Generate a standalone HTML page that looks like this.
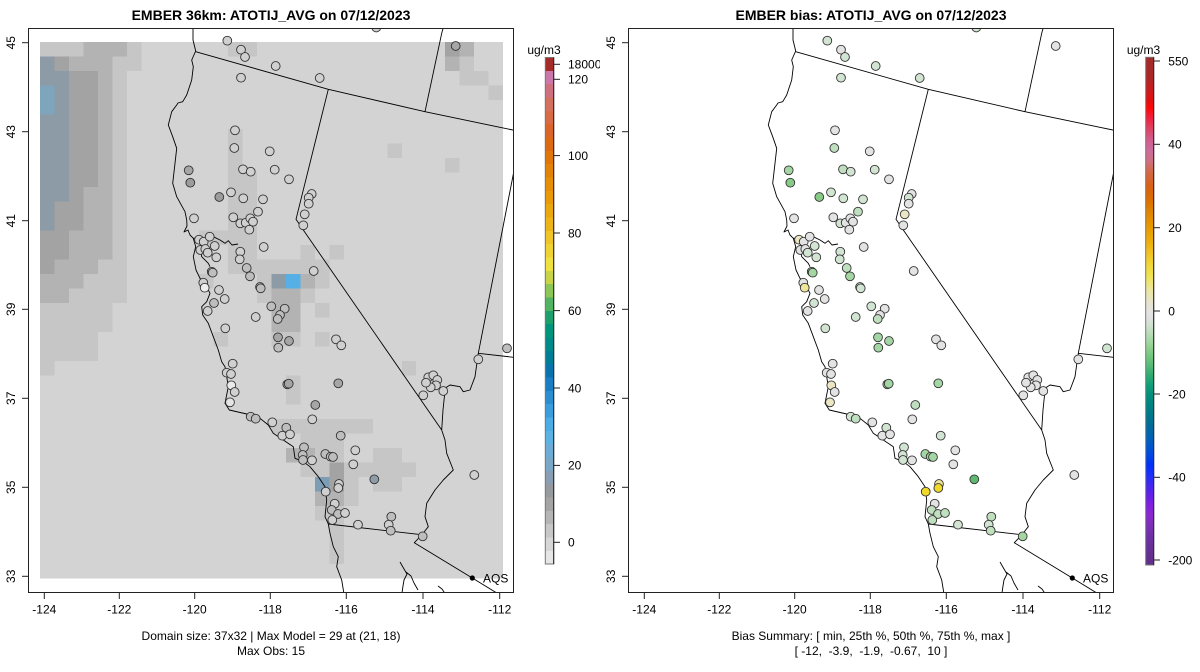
<!DOCTYPE html>
<html><head><meta charset="utf-8"><style>
html,body{margin:0;padding:0;background:#fff}
svg{display:block}
text{font-family:"Liberation Sans",Arial,sans-serif;fill:#000}
</style></head><body>
<svg width="1200" height="672" viewBox="0 0 1200 672" xmlns="http://www.w3.org/2000/svg">
<defs>
<clipPath id="pc"><rect x="28.5" y="28.5" width="485" height="564"/></clipPath>
<linearGradient id="rg" x1="0" y1="0" x2="0" y2="1">
<stop offset="0" stop-color="#a52a2a"/><stop offset="0.035" stop-color="#a82828"/><stop offset="0.055" stop-color="#c02020"/><stop offset="0.084" stop-color="#e01010"/><stop offset="0.1" stop-color="#ff0808"/><stop offset="0.12" stop-color="#f02040"/><stop offset="0.139" stop-color="#e04060"/><stop offset="0.159" stop-color="#d45888"/><stop offset="0.183" stop-color="#cc6c9c"/><stop offset="0.206" stop-color="#d07080"/><stop offset="0.226" stop-color="#d46848"/><stop offset="0.252" stop-color="#d86018"/><stop offset="0.277" stop-color="#dc6c00"/><stop offset="0.305" stop-color="#e08400"/><stop offset="0.332" stop-color="#e89800"/><stop offset="0.36" stop-color="#ecac08"/><stop offset="0.383" stop-color="#f0c020"/><stop offset="0.411" stop-color="#f0d838"/><stop offset="0.435" stop-color="#f0e45c"/><stop offset="0.458" stop-color="#ece6a0"/><stop offset="0.482" stop-color="#e6e4cc"/><stop offset="0.502" stop-color="#e4e4e4"/><stop offset="0.514" stop-color="#e0e0e0"/><stop offset="0.527" stop-color="#d0e2d0"/><stop offset="0.547" stop-color="#b4dcb4"/><stop offset="0.567" stop-color="#98d498"/><stop offset="0.586" stop-color="#78c880"/><stop offset="0.606" stop-color="#58bc78"/><stop offset="0.626" stop-color="#30ac70"/><stop offset="0.645" stop-color="#10a078"/><stop offset="0.665" stop-color="#00907c"/><stop offset="0.685" stop-color="#008480"/><stop offset="0.704" stop-color="#007888"/><stop offset="0.724" stop-color="#006c98"/><stop offset="0.744" stop-color="#0064b0"/><stop offset="0.763" stop-color="#0058c8"/><stop offset="0.783" stop-color="#0048e0"/><stop offset="0.803" stop-color="#0030f8"/><stop offset="0.823" stop-color="#1c30f8"/><stop offset="0.842" stop-color="#4028f0"/><stop offset="0.862" stop-color="#6420e8"/><stop offset="0.882" stop-color="#8020e0"/><stop offset="0.901" stop-color="#8a28d0"/><stop offset="0.921" stop-color="#7c30b8"/><stop offset="0.941" stop-color="#7030a8"/><stop offset="0.965" stop-color="#683098"/><stop offset="1" stop-color="#603088"/>
</linearGradient>
</defs>

<!-- ================= LEFT PANEL ================= -->
<g>
<g clip-path="url(#pc)">
<g shape-rendering="crispEdges">
<rect x="40" y="42" width="463.04" height="536.5" fill="#d3d3d3"/>
<g fill="#c6c6c6">
<rect x="40" y="42" width="101.3" height="29"/>
<rect x="40" y="71" width="86.8" height="232"/>
<rect x="40" y="303" width="72.35" height="29"/>
<rect x="40" y="332" width="57.9" height="29"/>
<rect x="40" y="361" width="14.47" height="14.5"/>
<rect x="228.11" y="42" width="28.94" height="14.5"/>
<rect x="459.63" y="56.5" width="14.47" height="14.5"/>
<rect x="459.63" y="71" width="28.94" height="14.5"/>
<rect x="488.57" y="85.5" width="14.47" height="14.5"/>
<rect x="387.28" y="143.5" width="14.47" height="14.5"/>
<rect x="445.16" y="158" width="14.47" height="14.5"/>
<rect x="228.11" y="129" width="14.47" height="101.5"/>
<rect x="242.58" y="172.5" width="14.47" height="58"/>
<rect x="199.17" y="230.5" width="57.9" height="14.5"/>
<rect x="228.11" y="245" width="28.94" height="14.5"/>
<rect x="300.46" y="245" width="14.47" height="14.5"/>
<rect x="329.4" y="245" width="14.47" height="14.5"/>
<rect x="228.11" y="259.5" width="101.3" height="14.5"/>
<rect x="199.17" y="274" width="14.47" height="14.5"/>
<rect x="257.05" y="274" width="14.47" height="29"/>
<rect x="314.93" y="274" width="14.47" height="14.5"/>
<rect x="300.46" y="288.5" width="14.47" height="14.5"/>
<rect x="314.93" y="303" width="14.47" height="14.5"/>
<rect x="213.64" y="332" width="14.47" height="14.5"/>
<rect x="271.52" y="332" width="28.94" height="14.5"/>
<rect x="314.93" y="332" width="14.47" height="14.5"/>
<rect x="401.75" y="361" width="14.47" height="14.5"/>
<rect x="285.99" y="375.5" width="14.47" height="29"/>
<rect x="271.52" y="419" width="101.3" height="14.5"/>
<rect x="300.46" y="433.5" width="43.4" height="14.5"/>
<rect x="314.93" y="448" width="28.94" height="14.5"/>
<rect x="372.81" y="448" width="28.94" height="14.5"/>
<rect x="300.46" y="462.5" width="28.94" height="14.5"/>
<rect x="343.87" y="462.5" width="72.35" height="14.5"/>
<rect x="343.87" y="477" width="14.47" height="29"/>
<rect x="372.81" y="477" width="28.94" height="14.5"/>
<rect x="314.93" y="506" width="28.94" height="14.5"/>
<rect x="329.4" y="520.5" width="14.47" height="43.5"/>
</g>
<g fill="#b3b3b3">
<rect x="83.41" y="42" width="43.4" height="14.5"/>
<rect x="68.94" y="56.5" width="43.4" height="14.5"/>
<rect x="40" y="71" width="72.35" height="188.5"/>
<rect x="40" y="259.5" width="57.9" height="14.5"/>
<rect x="40" y="274" width="43.4" height="14.5"/>
<rect x="40" y="288.5" width="28.94" height="14.5"/>
<rect x="459.63" y="42" width="14.47" height="14.5"/>
<rect x="445.16" y="56.5" width="14.47" height="14.5"/>
<rect x="300.46" y="274" width="14.47" height="14.5"/>
<rect x="271.52" y="288.5" width="28.94" height="43.5"/>
<rect x="285.99" y="448" width="28.94" height="14.5"/>
<rect x="314.93" y="491.5" width="28.94" height="14.5"/>
</g>
<g fill="#a3a3a3">
<rect x="54.47" y="56.5" width="14.47" height="14.5"/>
<rect x="68.94" y="71" width="28.94" height="116"/>
<rect x="68.94" y="187" width="14.47" height="14.5"/>
<rect x="54.47" y="201.5" width="28.94" height="29"/>
<rect x="40" y="230.5" width="28.94" height="29"/>
<rect x="40" y="259.5" width="14.47" height="14.5"/>
<rect x="445.16" y="42" width="14.47" height="14.5"/>
<rect x="329.4" y="462.5" width="14.47" height="29"/>
</g>
<g fill="#8d9ba6">
<rect x="40" y="56.5" width="14.47" height="14.5"/>
<rect x="40" y="71" width="28.94" height="130.5"/>
<rect x="40" y="201.5" width="14.47" height="29"/>
<rect x="271.52" y="274" width="14.47" height="14.5"/>
</g>
<rect x="40" y="85.5" width="14.47" height="29" fill="#7fa5bd"/>
<rect x="314.93" y="477" width="14.47" height="14.5" fill="#7d9db4"/>
<rect x="285.99" y="274" width="14.47" height="14.5" fill="#56b0e6"/>
</g>
<g fill="none" stroke="#000" stroke-width="0.9" stroke-linejoin="round">
<path d="M193,20 L193,40 L195.7,51 L191.7,60 L193.3,66.7 L191.7,80 L186.7,95 L182.7,101.7 L178,103 L176.7,105 L171.7,111.7 L168.3,125 L172.7,136.7 L176.7,148.3 L175,163.3 L172.7,183.3 L176.7,196.7 L185,211.7 L186.7,220 L187,226 L184,232 L188,230 L190,235 L193.3,238.3 L195.7,246.7 L193.3,256.7 L196,270 L200,278.3 L206.7,286.7 L210,293.3 L206.7,301.7 L201.7,306.7 L202.7,315 L208.3,323.3 L213.3,336.7 L218.3,350 L221.7,361.7 L225,366.7 L226.7,376.7 L228.3,386.7 L225,403.3 L229.3,410 L246.7,414 L260,418.3 L268.3,425 L273.3,433.3 L283.3,440 L293.3,446.7 L295,458.3 L303.3,461.7 L310,466.7 L318.3,476.7 L325,486.7 L326.7,500 L325,516.7 L328.3,524 L330,533.3 L333.3,546.7 L338.3,556.7 L336.7,566.7 L341.7,580 L345,600"/>
<path d="M193.3,238.3 L200,238 L206.7,238.3 L213.3,236.7 L220,240 L225,243.3 L228.3,240.7 L232,245 L238,244 M200,245 L201.7,256.7 L208.3,263.3 L210,266.7"/>
<path d="M195.7,51.7 L328.3,89.3 L425,111.7 L520,131.5 M425,111.7 L441.7,33.3 L444,25 M328.3,89.3 L296,219.3 L303.3,230 L441.7,430 L445,440 L446.7,453.3 L453.3,470 L443.3,480 L435,490 L426.7,503.3 L425,516.7 L428.3,526.7 L421.7,535 L414.3,542.7 L472.3,578 L505,598 M328.3,524 L418.3,534.3 M441.7,430 L443,410 L445.3,388 L450,385 L460,386.7 L463.3,391.7 L470,390 L475,376.7 L478.3,353.3 L520,140 M478.3,353.3 L520,358"/>
<path d="M400,562 L404,569 L407,574 L404,580 L403,586 L401.7,595 M406,572 L411,576 L414,583 L418,590 M438,586 L442,589 L446,595"/>
</g>
<g stroke="#333" stroke-width="0.9">
<circle cx="227.3" cy="40.7" r="4.4" fill="#d0d0d0"/><circle cx="241" cy="49.7" r="4.4" fill="#d0d0d0"/><circle cx="245" cy="57" r="4.4" fill="#d0d0d0"/><circle cx="275.7" cy="66" r="4.4" fill="#d0d0d0"/><circle cx="241" cy="77.7" r="4.4" fill="#d0d0d0"/><circle cx="319.7" cy="78" r="4.4" fill="#d0d0d0"/><circle cx="376.3" cy="27.5" r="4.4" fill="#d0d0d0"/><circle cx="455.7" cy="46" r="4.4" fill="#a6a6a6"/>
<circle cx="235" cy="130.3" r="4.4" fill="#d0d0d0"/><circle cx="234.3" cy="148" r="4.4" fill="#d0d0d0"/><circle cx="269.7" cy="151.3" r="4.4" fill="#d0d0d0"/><circle cx="188.7" cy="170.3" r="4.4" fill="#a6a6a6"/><circle cx="243" cy="169.3" r="4.4" fill="#d0d0d0"/><circle cx="250.7" cy="171.7" r="4.4" fill="#d0d0d0"/><circle cx="274.7" cy="169.7" r="4.4" fill="#d0d0d0"/><circle cx="190.3" cy="182.7" r="4.4" fill="#9c9c9c"/><circle cx="289" cy="179.3" r="4.4" fill="#d0d0d0"/><circle cx="219.3" cy="197" r="4.4" fill="#9c9c9c"/>
<circle cx="231" cy="192.3" r="4.4" fill="#d0d0d0"/><circle cx="243.3" cy="198.3" r="4.4" fill="#d0d0d0"/><circle cx="263" cy="199.3" r="4.4" fill="#d0d0d0"/><circle cx="311.7" cy="194" r="4.4" fill="#d0d0d0"/><circle cx="308.7" cy="197.7" r="4.4" fill="#d0d0d0"/><circle cx="308.7" cy="203.7" r="4.4" fill="#d0d0d0"/><circle cx="258" cy="211.7" r="4.4" fill="#d0d0d0"/><circle cx="304.7" cy="214.3" r="4.4" fill="#d0d0d0"/><circle cx="194" cy="218.3" r="4.4" fill="#d0d0d0"/><circle cx="233.3" cy="217.3" r="4.4" fill="#d0d0d0"/>
<circle cx="240.3" cy="223.3" r="4.4" fill="#d0d0d0"/><circle cx="245.7" cy="222.7" r="4.4" fill="#d0d0d0"/><circle cx="250.3" cy="218.3" r="4.4" fill="#d0d0d0"/><circle cx="253" cy="221.7" r="4.4" fill="#d0d0d0"/><circle cx="249.3" cy="229.7" r="4.4" fill="#d0d0d0"/><circle cx="303.3" cy="225.3" r="4.4" fill="#d0d0d0"/><circle cx="199" cy="239.7" r="4.4" fill="#d0d0d0"/><circle cx="203.7" cy="241.7" r="4.4" fill="#d0d0d0"/><circle cx="209.7" cy="236.7" r="4.4" fill="#d0d0d0"/><circle cx="214.7" cy="246" r="4.4" fill="#d0d0d0"/>
<circle cx="200.3" cy="250" r="4.4" fill="#d0d0d0"/><circle cx="205.3" cy="249" r="4.4" fill="#d0d0d0"/><circle cx="207.7" cy="252.7" r="4.4" fill="#d0d0d0"/><circle cx="216.3" cy="257.3" r="4.4" fill="#d0d0d0"/><circle cx="240.3" cy="251.7" r="4.4" fill="#d0d0d0"/><circle cx="239.7" cy="259.3" r="4.4" fill="#d0d0d0"/><circle cx="263.7" cy="247" r="4.4" fill="#d0d0d0"/><circle cx="211.7" cy="271.7" r="4.4" fill="#bebebe"/><circle cx="212.7" cy="272.7" r="4.4" fill="#bebebe"/><circle cx="246.7" cy="268" r="4.4" fill="#bebebe"/>
<circle cx="250" cy="276.3" r="4.4" fill="#bebebe"/><circle cx="313.7" cy="271" r="4.4" fill="#d0d0d0"/><circle cx="203.3" cy="282.7" r="4.4" fill="#d0d0d0"/><circle cx="204.7" cy="287.7" r="4.4" fill="#eeeeee"/><circle cx="219" cy="290" r="4.4" fill="#d0d0d0"/><circle cx="224.7" cy="299" r="4.4" fill="#d0d0d0"/><circle cx="260" cy="287" r="4.4" fill="#bebebe"/><circle cx="260.7" cy="288.3" r="4.4" fill="#bebebe"/><circle cx="214" cy="303" r="4.4" fill="#bebebe"/><circle cx="207.7" cy="311" r="4.4" fill="#d0d0d0"/>
<circle cx="271.3" cy="306.3" r="4.4" fill="#bebebe"/><circle cx="284.7" cy="308.7" r="4.4" fill="#bebebe"/><circle cx="255.7" cy="317" r="4.4" fill="#d0d0d0"/><circle cx="280" cy="315" r="4.4" fill="#bebebe"/><circle cx="277.7" cy="319" r="4.4" fill="#bebebe"/><circle cx="225.3" cy="328.3" r="4.4" fill="#d0d0d0"/><circle cx="278" cy="337.3" r="4.4" fill="#a6a6a6"/><circle cx="289" cy="341" r="4.4" fill="#a6a6a6"/><circle cx="278.3" cy="347.7" r="4.4" fill="#bebebe"/><circle cx="336" cy="339.3" r="4.4" fill="#d0d0d0"/>
<circle cx="341.3" cy="345.3" r="4.4" fill="#d0d0d0"/><circle cx="232.7" cy="363.7" r="4.4" fill="#d0d0d0"/><circle cx="226.7" cy="372.7" r="4.4" fill="#d0d0d0"/><circle cx="231" cy="374" r="4.4" fill="#d0d0d0"/><circle cx="231.3" cy="385.3" r="4.4" fill="#eaeaea"/><circle cx="234.7" cy="392" r="4.4" fill="#d0d0d0"/><circle cx="230" cy="402.3" r="4.4" fill="#e4e4e4"/><circle cx="287.3" cy="384.3" r="4.4" fill="#a6a6a6"/><circle cx="288.7" cy="383.7" r="4.4" fill="#a6a6a6"/><circle cx="338.3" cy="383.3" r="4.4" fill="#a6a6a6"/>
<circle cx="315.3" cy="405" r="4.4" fill="#a6a6a6"/><circle cx="312.3" cy="419.3" r="4.4" fill="#d0d0d0"/><circle cx="250.7" cy="416.7" r="4.4" fill="#bebebe"/><circle cx="255.7" cy="418.7" r="4.4" fill="#bebebe"/><circle cx="272.3" cy="422.3" r="4.4" fill="#d0d0d0"/><circle cx="286.3" cy="427.7" r="4.4" fill="#bebebe"/><circle cx="282.3" cy="435.7" r="4.4" fill="#d0d0d0"/><circle cx="290" cy="434.3" r="4.4" fill="#d0d0d0"/><circle cx="340.7" cy="435.7" r="4.4" fill="#bebebe"/><circle cx="304" cy="447.3" r="4.4" fill="#bebebe"/>
<circle cx="302.7" cy="455" r="4.4" fill="#bebebe"/><circle cx="303" cy="460" r="4.4" fill="#bebebe"/><circle cx="312" cy="460.3" r="4.4" fill="#d0d0d0"/><circle cx="325.3" cy="454" r="4.4" fill="#bebebe"/><circle cx="330.7" cy="456.7" r="4.4" fill="#bebebe"/><circle cx="333" cy="457" r="4.4" fill="#bebebe"/><circle cx="355.3" cy="450.3" r="4.4" fill="#d0d0d0"/><circle cx="353.3" cy="464.3" r="4.4" fill="#d0d0d0"/><circle cx="374.3" cy="479.3" r="4.4" fill="#8e9ca8"/><circle cx="339" cy="484" r="4.4" fill="#d0d0d0"/>
<circle cx="338.3" cy="488" r="4.4" fill="#d0d0d0"/><circle cx="325.7" cy="491.7" r="4.4" fill="#d0d0d0"/><circle cx="334.7" cy="503.7" r="4.4" fill="#d0d0d0"/><circle cx="331.7" cy="510" r="4.4" fill="#bebebe"/><circle cx="338" cy="514" r="4.4" fill="#bebebe"/><circle cx="345" cy="513" r="4.4" fill="#d0d0d0"/><circle cx="332.3" cy="520" r="4.4" fill="#d0d0d0"/><circle cx="358" cy="524.7" r="4.4" fill="#d0d0d0"/><circle cx="391.3" cy="516.7" r="4.4" fill="#bebebe"/><circle cx="388.7" cy="524.7" r="4.4" fill="#d0d0d0"/>
<circle cx="390.7" cy="530.7" r="4.4" fill="#bebebe"/><circle cx="422.7" cy="536.3" r="4.4" fill="#bebebe"/><circle cx="474.3" cy="475" r="4.4" fill="#d0d0d0"/><circle cx="478.3" cy="359.3" r="4.4" fill="#d0d0d0"/><circle cx="507" cy="348.3" r="4.4" fill="#bebebe"/><circle cx="423.3" cy="395.3" r="4.4" fill="#d0d0d0"/><circle cx="443.3" cy="391" r="4.4" fill="#d0d0d0"/>
<circle cx="428.3" cy="377.3" r="4.4" fill="#d0d0d0"/><circle cx="433.3" cy="375.3" r="4.4" fill="#d0d0d0"/><circle cx="437.3" cy="380" r="4.4" fill="#d0d0d0"/><circle cx="436" cy="385.3" r="4.4" fill="#d0d0d0"/><circle cx="430.7" cy="387.3" r="4.4" fill="#d0d0d0"/><circle cx="426" cy="382.7" r="4.4" fill="#d0d0d0"/>
</g>
<circle cx="472.3" cy="578" r="2.6" fill="#000"/>
<text x="483" y="582.3" font-size="12">AQS</text>
</g>
<rect x="28.5" y="28.5" width="485" height="564" fill="none" stroke="#222" stroke-width="1"/>
<g stroke="#222" stroke-width="1">
<line x1="22" y1="42.7" x2="28.5" y2="42.7"/><line x1="22" y1="131.7" x2="28.5" y2="131.7"/><line x1="22" y1="220.7" x2="28.5" y2="220.7"/><line x1="22" y1="309.3" x2="28.5" y2="309.3"/><line x1="22" y1="398.3" x2="28.5" y2="398.3"/><line x1="22" y1="487.3" x2="28.5" y2="487.3"/><line x1="22" y1="576.3" x2="28.5" y2="576.3"/>
<line x1="44.3" y1="592.5" x2="44.3" y2="599"/><line x1="119.3" y1="592.5" x2="119.3" y2="599"/><line x1="194.7" y1="592.5" x2="194.7" y2="599"/><line x1="270.3" y1="592.5" x2="270.3" y2="599"/><line x1="346.3" y1="592.5" x2="346.3" y2="599"/><line x1="423" y1="592.5" x2="423" y2="599"/><line x1="499.7" y1="592.5" x2="499.7" y2="599"/>
</g>
<g font-size="12" text-anchor="middle">
<text transform="translate(15,42.7) rotate(-90)">45</text><text transform="translate(15,131.7) rotate(-90)">43</text><text transform="translate(15,220.7) rotate(-90)">41</text><text transform="translate(15,309.3) rotate(-90)">39</text><text transform="translate(15,398.3) rotate(-90)">37</text><text transform="translate(15,487.3) rotate(-90)">35</text><text transform="translate(15,576.3) rotate(-90)">33</text>
<text x="44.3" y="613.5">-124</text><text x="119.3" y="613.5">-122</text><text x="194.7" y="613.5">-120</text><text x="270.3" y="613.5">-118</text><text x="346.3" y="613.5">-116</text><text x="423" y="613.5">-114</text><text x="499.7" y="613.5">-112</text>
<text x="271" y="640">Domain size: 37x32 | Max Model = 29 at (21, 18)</text>
<text x="271" y="655">Max Obs: 15</text>
<text x="271" y="20" font-size="14" font-weight="bold">EMBER 36km: ATOTIJ_AVG on 07/12/2023</text>
</g>
<g shape-rendering="crispEdges">
<rect x="545.3" y="57.5" width="8.4" height="13.4" fill="#a52a2a"/>
<rect x="545.3" y="70.8" width="8.4" height="13.4" fill="#cc77aa"/>
<rect x="545.3" y="84.2" width="8.4" height="13.4" fill="#cf7080"/>
<rect x="545.3" y="97.5" width="8.4" height="13.4" fill="#d4705e"/>
<rect x="545.3" y="110.8" width="8.4" height="13.4" fill="#d86a45"/>
<rect x="545.3" y="124.2" width="8.4" height="13.4" fill="#db6428"/>
<rect x="545.3" y="137.5" width="8.4" height="13.4" fill="#dd6a12"/>
<rect x="545.3" y="150.8" width="8.4" height="13.4" fill="#e07608"/>
<rect x="545.3" y="164.2" width="8.4" height="13.4" fill="#e28208"/>
<rect x="545.3" y="177.5" width="8.4" height="13.4" fill="#e68e08"/>
<rect x="545.3" y="190.8" width="8.4" height="13.4" fill="#e89a08"/>
<rect x="545.3" y="204.2" width="8.4" height="13.4" fill="#eaa80e"/>
<rect x="545.3" y="217.5" width="8.4" height="13.4" fill="#ecb418"/>
<rect x="545.3" y="230.8" width="8.4" height="13.4" fill="#f0c426"/>
<rect x="545.3" y="244.2" width="8.4" height="13.4" fill="#f0d232"/>
<rect x="545.3" y="257.5" width="8.4" height="13.4" fill="#f0e040"/>
<rect x="545.3" y="270.8" width="8.4" height="13.4" fill="#c8d448"/>
<rect x="545.3" y="284.2" width="8.4" height="13.4" fill="#8cc656"/>
<rect x="545.3" y="297.5" width="8.4" height="13.4" fill="#52b460"/>
<rect x="545.3" y="310.8" width="8.4" height="13.4" fill="#1ea06c"/>
<rect x="545.3" y="324.2" width="8.4" height="13.4" fill="#00957c"/>
<rect x="545.3" y="337.5" width="8.4" height="13.4" fill="#008a88"/>
<rect x="545.3" y="350.8" width="8.4" height="13.4" fill="#007e98"/>
<rect x="545.3" y="364.2" width="8.4" height="13.4" fill="#0a72ac"/>
<rect x="545.3" y="377.5" width="8.4" height="13.4" fill="#1a7ec4"/>
<rect x="545.3" y="390.8" width="8.4" height="13.4" fill="#2a8ed0"/>
<rect x="545.3" y="404.2" width="8.4" height="13.4" fill="#3a9ede"/>
<rect x="545.3" y="417.5" width="8.4" height="13.4" fill="#4cace6"/>
<rect x="545.3" y="430.8" width="8.4" height="13.4" fill="#5cb2e2"/>
<rect x="545.3" y="444.2" width="8.4" height="13.4" fill="#6cacd6"/>
<rect x="545.3" y="457.5" width="8.4" height="13.4" fill="#7aa6c8"/>
<rect x="545.3" y="470.8" width="8.4" height="13.4" fill="#889eb2"/>
<rect x="545.3" y="484.2" width="8.4" height="13.4" fill="#969a9e"/>
<rect x="545.3" y="497.5" width="8.4" height="13.4" fill="#a4a4a4"/>
<rect x="545.3" y="510.8" width="8.4" height="13.4" fill="#b5b5b5"/>
<rect x="545.3" y="524.2" width="8.4" height="13.4" fill="#c7c7c7"/>
<rect x="545.3" y="537.5" width="8.4" height="13.4" fill="#d6d6d6"/>
<rect x="545.3" y="550.8" width="8.4" height="13.2" fill="#e6e6e6"/>
</g>
<rect x="545.3" y="57.5" width="8.4" height="506.5" fill="none" stroke="#777" stroke-width="1"/>
<line x1="553.7" y1="57.5" x2="553.7" y2="564" stroke="#222" stroke-width="1"/>
<g stroke="#222" stroke-width="1">
<line x1="553.7" y1="64.3" x2="560" y2="64.3"/><line x1="553.7" y1="79.3" x2="560" y2="79.3"/><line x1="553.7" y1="155.6" x2="560" y2="155.6"/><line x1="553.7" y1="233" x2="560" y2="233"/><line x1="553.7" y1="310.6" x2="560" y2="310.6"/><line x1="553.7" y1="388" x2="560" y2="388"/><line x1="553.7" y1="465.4" x2="560" y2="465.4"/><line x1="553.7" y1="542.3" x2="560" y2="542.3"/>
</g>
<g font-size="12">
<text x="568" y="68.6">18000</text><text x="568" y="83.6">120</text><text x="568" y="159.9">100</text><text x="568" y="237.3">80</text><text x="568" y="314.9">60</text><text x="568" y="392.3">40</text><text x="568" y="469.7">20</text><text x="568" y="546.6">0</text>
<text x="544" y="54" text-anchor="middle">ug/m3</text>
</g>
</g>
<rect x="600" y="0" width="600" height="672" fill="#fff"/>

<!-- ================= RIGHT PANEL ================= -->
<g transform="translate(600,0)">
<g clip-path="url(#pc)">
<g fill="none" stroke="#000" stroke-width="0.9" stroke-linejoin="round">
<path d="M193,20 L193,40 L195.7,51 L191.7,60 L193.3,66.7 L191.7,80 L186.7,95 L182.7,101.7 L178,103 L176.7,105 L171.7,111.7 L168.3,125 L172.7,136.7 L176.7,148.3 L175,163.3 L172.7,183.3 L176.7,196.7 L185,211.7 L186.7,220 L187,226 L184,232 L188,230 L190,235 L193.3,238.3 L195.7,246.7 L193.3,256.7 L196,270 L200,278.3 L206.7,286.7 L210,293.3 L206.7,301.7 L201.7,306.7 L202.7,315 L208.3,323.3 L213.3,336.7 L218.3,350 L221.7,361.7 L225,366.7 L226.7,376.7 L228.3,386.7 L225,403.3 L229.3,410 L246.7,414 L260,418.3 L268.3,425 L273.3,433.3 L283.3,440 L293.3,446.7 L295,458.3 L303.3,461.7 L310,466.7 L318.3,476.7 L325,486.7 L326.7,500 L325,516.7 L328.3,524 L330,533.3 L333.3,546.7 L338.3,556.7 L336.7,566.7 L341.7,580 L345,600"/>
<path d="M193.3,238.3 L200,238 L206.7,238.3 L213.3,236.7 L220,240 L225,243.3 L228.3,240.7 L232,245 L238,244 M200,245 L201.7,256.7 L208.3,263.3 L210,266.7"/>
<path d="M195.7,51.7 L328.3,89.3 L425,111.7 L520,131.5 M425,111.7 L441.7,33.3 L444,25 M328.3,89.3 L296,219.3 L303.3,230 L441.7,430 L445,440 L446.7,453.3 L453.3,470 L443.3,480 L435,490 L426.7,503.3 L425,516.7 L428.3,526.7 L421.7,535 L414.3,542.7 L472.3,578 L505,598 M328.3,524 L418.3,534.3 M441.7,430 L443,410 L445.3,388 L450,385 L460,386.7 L463.3,391.7 L470,390 L475,376.7 L478.3,353.3 L520,140 M478.3,353.3 L520,358"/>
<path d="M400,562 L404,569 L407,574 L404,580 L403,586 L401.7,595 M406,572 L411,576 L414,583 L418,590 M438,586 L442,589 L446,595"/>
</g>
<g stroke="#333" stroke-width="0.9">
<circle cx="227.3" cy="40.7" r="4.4" fill="#d2e4d2"/><circle cx="241" cy="49.7" r="4.4" fill="#e3e3e3"/><circle cx="245" cy="57" r="4.4" fill="#d2e4d2"/><circle cx="275.7" cy="66" r="4.4" fill="#d2e4d2"/><circle cx="241" cy="77.7" r="4.4" fill="#d2e4d2"/><circle cx="319.7" cy="78" r="4.4" fill="#d2e4d2"/><circle cx="376.3" cy="27.5" r="4.4" fill="#d2e4d2"/><circle cx="455.7" cy="46" r="4.4" fill="#e3e3e3"/>
<circle cx="235" cy="130.3" r="4.4" fill="#e3e3e3"/><circle cx="234.3" cy="148" r="4.4" fill="#bfdfbf"/><circle cx="269.7" cy="151.3" r="4.4" fill="#e3e3e3"/><circle cx="188.7" cy="170.3" r="4.4" fill="#a3d6a3"/><circle cx="243" cy="169.3" r="4.4" fill="#bfdfbf"/><circle cx="250.7" cy="171.7" r="4.4" fill="#d2e4d2"/><circle cx="274.7" cy="169.7" r="4.4" fill="#d2e4d2"/><circle cx="190.3" cy="182.7" r="4.4" fill="#86cb86"/><circle cx="289" cy="179.3" r="4.4" fill="#e3e3e3"/><circle cx="219.3" cy="197" r="4.4" fill="#86cb86"/>
<circle cx="231" cy="192.3" r="4.4" fill="#d2e4d2"/><circle cx="243.3" cy="198.3" r="4.4" fill="#d2e4d2"/><circle cx="263" cy="199.3" r="4.4" fill="#d2e4d2"/><circle cx="311.7" cy="194" r="4.4" fill="#e3e3e3"/><circle cx="308.7" cy="197.7" r="4.4" fill="#d2e4d2"/><circle cx="308.7" cy="203.7" r="4.4" fill="#e3e3e3"/><circle cx="258" cy="211.7" r="4.4" fill="#bfdfbf"/><circle cx="304.7" cy="214.3" r="4.4" fill="#ebe7c4"/><circle cx="194" cy="218.3" r="4.4" fill="#e3e3e3"/><circle cx="233.3" cy="217.3" r="4.4" fill="#e3e3e3"/>
<circle cx="240.3" cy="223.3" r="4.4" fill="#d2e4d2"/><circle cx="245.7" cy="222.7" r="4.4" fill="#e3e3e3"/><circle cx="250.3" cy="218.3" r="4.4" fill="#e3e3e3"/><circle cx="253" cy="221.7" r="4.4" fill="#e3e3e3"/><circle cx="249.3" cy="229.7" r="4.4" fill="#e3e3e3"/><circle cx="303.3" cy="225.3" r="4.4" fill="#e3e3e3"/><circle cx="199" cy="239.7" r="4.4" fill="#ebe7c4"/><circle cx="203.7" cy="241.7" r="4.4" fill="#e3e3e3"/><circle cx="209.7" cy="236.7" r="4.4" fill="#e3e3e3"/><circle cx="214.7" cy="246" r="4.4" fill="#d2e4d2"/>
<circle cx="200.3" cy="250" r="4.4" fill="#e3e3e3"/><circle cx="205.3" cy="249" r="4.4" fill="#e3e3e3"/><circle cx="207.7" cy="252.7" r="4.4" fill="#d2e4d2"/><circle cx="216.3" cy="257.3" r="4.4" fill="#d2e4d2"/><circle cx="240.3" cy="251.7" r="4.4" fill="#d2e4d2"/><circle cx="239.7" cy="259.3" r="4.4" fill="#d2e4d2"/><circle cx="263.7" cy="247" r="4.4" fill="#e3e3e3"/><circle cx="211.7" cy="271.7" r="4.4" fill="#a3d6a3"/><circle cx="212.7" cy="272.7" r="4.4" fill="#a3d6a3"/><circle cx="246.7" cy="268" r="4.4" fill="#bfdfbf"/>
<circle cx="250" cy="276.3" r="4.4" fill="#a3d6a3"/><circle cx="313.7" cy="271" r="4.4" fill="#e3e3e3"/><circle cx="203.3" cy="282.7" r="4.4" fill="#e3e3e3"/><circle cx="204.7" cy="287.7" r="4.4" fill="#efe69a"/><circle cx="219" cy="290" r="4.4" fill="#e3e3e3"/><circle cx="224.7" cy="299" r="4.4" fill="#e3e3e3"/><circle cx="260" cy="287" r="4.4" fill="#d2e4d2"/><circle cx="260.7" cy="288.3" r="4.4" fill="#d2e4d2"/><circle cx="214" cy="303" r="4.4" fill="#d2e4d2"/><circle cx="207.7" cy="311" r="4.4" fill="#e3e3e3"/>
<circle cx="271.3" cy="306.3" r="4.4" fill="#d2e4d2"/><circle cx="284.7" cy="308.7" r="4.4" fill="#e3e3e3"/><circle cx="255.7" cy="317" r="4.4" fill="#d2e4d2"/><circle cx="280" cy="315" r="4.4" fill="#e3e3e3"/><circle cx="277.7" cy="319" r="4.4" fill="#bfdfbf"/><circle cx="225.3" cy="328.3" r="4.4" fill="#d2e4d2"/><circle cx="278" cy="337.3" r="4.4" fill="#a3d6a3"/><circle cx="289" cy="341" r="4.4" fill="#a3d6a3"/><circle cx="278.3" cy="347.7" r="4.4" fill="#a3d6a3"/><circle cx="336" cy="339.3" r="4.4" fill="#e3e3e3"/>
<circle cx="341.3" cy="345.3" r="4.4" fill="#e3e3e3"/><circle cx="232.7" cy="363.7" r="4.4" fill="#e3e3e3"/><circle cx="226.7" cy="372.7" r="4.4" fill="#e3e3e3"/><circle cx="231" cy="374" r="4.4" fill="#e3e3e3"/><circle cx="231.3" cy="385.3" r="4.4" fill="#ebe7c4"/><circle cx="234.7" cy="392" r="4.4" fill="#e3e3e3"/><circle cx="230" cy="402.3" r="4.4" fill="#ebe7c4"/><circle cx="287.3" cy="384.3" r="4.4" fill="#a3d6a3"/><circle cx="288.7" cy="383.7" r="4.4" fill="#a3d6a3"/><circle cx="338.3" cy="383.3" r="4.4" fill="#a3d6a3"/>
<circle cx="315.3" cy="405" r="4.4" fill="#bfdfbf"/><circle cx="312.3" cy="419.3" r="4.4" fill="#e3e3e3"/><circle cx="250.7" cy="416.7" r="4.4" fill="#d2e4d2"/><circle cx="255.7" cy="418.7" r="4.4" fill="#bfdfbf"/><circle cx="272.3" cy="422.3" r="4.4" fill="#e3e3e3"/><circle cx="286.3" cy="427.7" r="4.4" fill="#d2e4d2"/><circle cx="282.3" cy="435.7" r="4.4" fill="#e3e3e3"/><circle cx="290" cy="434.3" r="4.4" fill="#e3e3e3"/><circle cx="340.7" cy="435.7" r="4.4" fill="#d2e4d2"/><circle cx="304" cy="447.3" r="4.4" fill="#d2e4d2"/>
<circle cx="302.7" cy="455" r="4.4" fill="#d2e4d2"/><circle cx="303" cy="460" r="4.4" fill="#d2e4d2"/><circle cx="312" cy="460.3" r="4.4" fill="#e3e3e3"/><circle cx="325.3" cy="454" r="4.4" fill="#a3d6a3"/><circle cx="330.7" cy="456.7" r="4.4" fill="#a3d6a3"/><circle cx="333" cy="457" r="4.4" fill="#a3d6a3"/><circle cx="355.3" cy="450.3" r="4.4" fill="#e3e3e3"/><circle cx="353.3" cy="464.3" r="4.4" fill="#e3e3e3"/><circle cx="374.3" cy="479.3" r="4.4" fill="#5eb870"/><circle cx="339" cy="484" r="4.4" fill="#efe69a"/>
<circle cx="338.3" cy="488" r="4.4" fill="#f0d82a"/><circle cx="325.7" cy="491.7" r="4.4" fill="#f0d82a"/><circle cx="334.7" cy="503.7" r="4.4" fill="#e3e3e3"/><circle cx="331.7" cy="510" r="4.4" fill="#bfdfbf"/><circle cx="338" cy="514" r="4.4" fill="#bfdfbf"/><circle cx="345" cy="513" r="4.4" fill="#bfdfbf"/><circle cx="332.3" cy="520" r="4.4" fill="#bfdfbf"/><circle cx="358" cy="524.7" r="4.4" fill="#d2e4d2"/><circle cx="391.3" cy="516.7" r="4.4" fill="#bfdfbf"/><circle cx="388.7" cy="524.7" r="4.4" fill="#d2e4d2"/>
<circle cx="390.7" cy="530.7" r="4.4" fill="#bfdfbf"/><circle cx="422.7" cy="536.3" r="4.4" fill="#a3d6a3"/><circle cx="474.3" cy="475" r="4.4" fill="#e3e3e3"/><circle cx="478.3" cy="359.3" r="4.4" fill="#e3e3e3"/><circle cx="507" cy="348.3" r="4.4" fill="#d2e4d2"/><circle cx="423.3" cy="395.3" r="4.4" fill="#e3e3e3"/><circle cx="443.3" cy="391" r="4.4" fill="#e3e3e3"/>
<circle cx="428.3" cy="377.3" r="4.4" fill="#e3e3e3"/><circle cx="433.3" cy="375.3" r="4.4" fill="#e3e3e3"/><circle cx="437.3" cy="380" r="4.4" fill="#e3e3e3"/><circle cx="436" cy="385.3" r="4.4" fill="#e3e3e3"/><circle cx="430.7" cy="387.3" r="4.4" fill="#e3e3e3"/><circle cx="426" cy="382.7" r="4.4" fill="#e3e3e3"/>
</g>
<circle cx="472.3" cy="578" r="2.6" fill="#000"/>
<text x="483" y="582.3" font-size="12">AQS</text>
</g>
<rect x="28.5" y="28.5" width="485" height="564" fill="none" stroke="#222" stroke-width="1"/>
<g stroke="#222" stroke-width="1">
<line x1="22" y1="42.7" x2="28.5" y2="42.7"/><line x1="22" y1="131.7" x2="28.5" y2="131.7"/><line x1="22" y1="220.7" x2="28.5" y2="220.7"/><line x1="22" y1="309.3" x2="28.5" y2="309.3"/><line x1="22" y1="398.3" x2="28.5" y2="398.3"/><line x1="22" y1="487.3" x2="28.5" y2="487.3"/><line x1="22" y1="576.3" x2="28.5" y2="576.3"/>
<line x1="44.3" y1="592.5" x2="44.3" y2="599"/><line x1="119.3" y1="592.5" x2="119.3" y2="599"/><line x1="194.7" y1="592.5" x2="194.7" y2="599"/><line x1="270.3" y1="592.5" x2="270.3" y2="599"/><line x1="346.3" y1="592.5" x2="346.3" y2="599"/><line x1="423" y1="592.5" x2="423" y2="599"/><line x1="499.7" y1="592.5" x2="499.7" y2="599"/>
</g>
<g font-size="12" text-anchor="middle">
<text transform="translate(15,42.7) rotate(-90)">45</text><text transform="translate(15,131.7) rotate(-90)">43</text><text transform="translate(15,220.7) rotate(-90)">41</text><text transform="translate(15,309.3) rotate(-90)">39</text><text transform="translate(15,398.3) rotate(-90)">37</text><text transform="translate(15,487.3) rotate(-90)">35</text><text transform="translate(15,576.3) rotate(-90)">33</text>
<text x="44.3" y="613.5">-124</text><text x="119.3" y="613.5">-122</text><text x="194.7" y="613.5">-120</text><text x="270.3" y="613.5">-118</text><text x="346.3" y="613.5">-116</text><text x="423" y="613.5">-114</text><text x="499.7" y="613.5">-112</text>
<text x="271" y="640">Bias Summary: [ min, 25th %, 50th %, 75th %, max ]</text>
<text x="271" y="655" style="white-space:pre">[ -12,  -3.9,  -1.9,  -0.67,  10 ]</text>
<text x="271" y="20" font-size="14" font-weight="bold">EMBER bias: ATOTIJ_AVG on 07/12/2023</text>
</g>
<rect x="545.7" y="57.3" width="8" height="507.7" fill="url(#rg)"/>
<rect x="545.7" y="57.3" width="8" height="507.7" fill="none" stroke="#777" stroke-width="1"/>
<line x1="553.7" y1="57.3" x2="553.7" y2="565" stroke="#222" stroke-width="1"/>
<g stroke="#222" stroke-width="1">
<line x1="553.7" y1="61" x2="560" y2="61"/><line x1="553.7" y1="144.3" x2="560" y2="144.3"/><line x1="553.7" y1="227.7" x2="560" y2="227.7"/><line x1="553.7" y1="311" x2="560" y2="311"/><line x1="553.7" y1="394" x2="560" y2="394"/><line x1="553.7" y1="477.3" x2="560" y2="477.3"/><line x1="553.7" y1="560" x2="560" y2="560"/>
</g>
<g font-size="12">
<text x="568.3" y="65.3">550</text><text x="568.3" y="148.6">40</text><text x="568.3" y="232">20</text><text x="568.3" y="315.3">0</text><text x="568.3" y="398.3">-20</text><text x="568.3" y="481.6">-40</text><text x="568.3" y="564.3">-200</text>
<text x="543.5" y="54" text-anchor="middle">ug/m3</text>
</g>
</g>
</svg>
</body></html>
